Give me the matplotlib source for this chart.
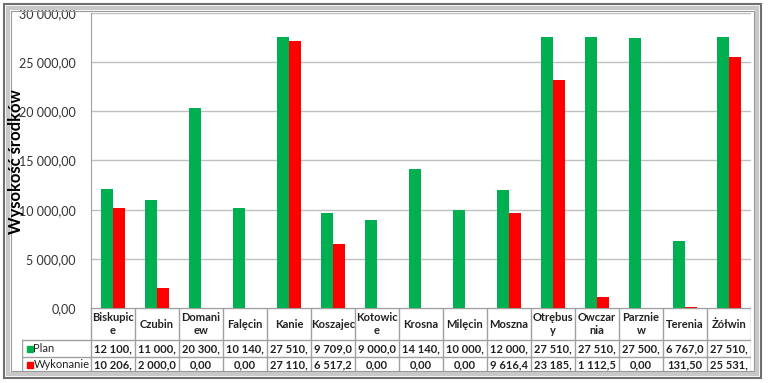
import matplotlib.pyplot as plt
from matplotlib.patches import Rectangle
from matplotlib.ticker import FuncFormatter
import numpy as np

plt.rcParams['font.family'] = ['Lato', 'DejaVu Sans']

# dane
miejscowosci = ["Biskupic\ne", "Czubin", "Domani\new", "Falęcin", "Kanie", "Koszajec",
                "Kotowic\ne", "Krosna", "Milęcin", "Moszna", "Otrębus\ny", "Owczar\nnia",
                "Parznie\nw", "Terenia", "Żółwin"]
plan = [12100, 11000, 20300, 10140, 27510, 9709, 9000, 14140, 10000, 12000,
        27510, 27510, 27500, 6767, 27510]
wykonanie = [10206, 2000, 0, 0, 27110, 6517.2, 0, 0, 0, 9616.4,
             23185, 1112.5, 0, 131.5, 25531]
# teksty w tabeli (obcięte jak w oryginale)
plan_txt = ["12 100,", "11 000,", "20 300,", "10 140,", "27 510,", "9 709,0", "9 000,0",
            "14 140,", "10 000,", "12 000,", "27 510,", "27 510,", "27 500,", "6 767,0", "27 510,"]
wyk_txt = ["10 206,", "2 000,0", "0,00", "0,00", "27 110,", "6 517,2", "0,00", "0,00",
           "0,00", "9 616,4", "23 185,", "1 112,5", "0,00", "131,50", "25 531,"]

GREEN = "#00B050"
RED = "#FF0000"
W, H = 768, 383

fig = plt.figure(figsize=(7.68, 3.83), dpi=100)

# ramka wykresu
fig.patches.append(Rectangle((4 / W, 5 / H), 757 / W, 374 / H, transform=fig.transFigure,
                             fill=False, edgecolor="#6f6f6f", linewidth=1.5))
fig.patches.append(Rectangle((8 / W, 9 / H), 749 / W, 366 / H, transform=fig.transFigure,
                             fill=False, edgecolor="#c8c8c8", linewidth=3))
fig.patches.append(Rectangle((11 / W, 12 / H), 743 / W, 360 / H, transform=fig.transFigure,
                             fill=False, edgecolor="#9a9a9a", linewidth=0.8))

x0, x1, ytop, ybot = 91, 751, 13, 308
ax = fig.add_axes([x0 / W, (H - ybot) / H, (x1 - x0) / W, (ybot - ytop) / H])
x = np.arange(len(plan))
bw = 0.27
ax.bar(x - bw / 2, plan, bw, color=GREEN)
ax.bar(x + bw / 2, wykonanie, bw, color=RED)
ax.set_xlim(-0.5, len(plan) - 0.5)
ax.set_ylim(0, 30000)
ax.set_yticks(range(0, 30001, 5000))
ax.yaxis.set_major_formatter(FuncFormatter(lambda v, p: f"{v:,.2f}".replace(",", " ").replace(".", ",")))
ax.tick_params(axis="y", length=0, labelsize=9, pad=11, labelcolor="#333333")
ax.set_xticks([])
ax.grid(axis="y", color="#bfbfbf", linewidth=1)
ax.set_axisbelow(True)
for s in ["top", "right", "bottom"]:
    ax.spines[s].set_visible(False)
ax.spines["left"].set_color("#a0a0a0")
fig.text(16 / W, 1 - 162 / H, "Wysokość środków", rotation=90,
         ha="center", va="center", fontsize=12, fontweight="bold")

# tabela danych
tl = 22
lw = (x0 - tl) / 44.0
tax = fig.add_axes([tl / W, (H - 373) / H, (x1 - tl) / W, 65 / H])
tax.set_xlim(-0.5 - lw, len(plan) - 0.5)
tax.set_ylim(65, 0)
tax.axis("off")
lc = "#a0a0a0"
tax.plot([-0.5, len(plan) - 0.5], [0, 0], color=lc, lw=1)
for yy in [32, 49, 64.5]:
    tax.plot([-0.5 - lw, len(plan) - 0.5], [yy, yy], color=lc, lw=1)
for i in range(len(plan) + 1):
    tax.plot([i - 0.5, i - 0.5], [0, 64.5], color=lc, lw=1)
tax.plot([-0.5 - lw + 0.01, -0.5 - lw + 0.01], [32, 64.5], color=lc, lw=1)
for i in range(len(plan)):
    tax.text(i, 16, miejscowosci[i], ha="center", va="center", fontsize=8,
             fontweight="bold", linespacing=1.15, color="#222222")
    tax.text(i, 40.5, plan_txt[i], ha="center", va="center", fontsize=8,
             fontweight="bold", color="#222222")
    tax.text(i, 57, wyk_txt[i], ha="center", va="center", fontsize=8,
             fontweight="bold", color="#222222")
for yy, c, lab in [(40.5, GREEN, "Plan"), (57, RED, "Wykonanie")]:
    tax.add_patch(Rectangle((-0.5 - lw + 0.11, yy - 3), 0.13, 6, color=c))
    tax.text(-0.5 - lw + 0.26, yy, lab, ha="left", va="center", fontsize=8, color="#222222")

fig.savefig("out.png", dpi=100)
